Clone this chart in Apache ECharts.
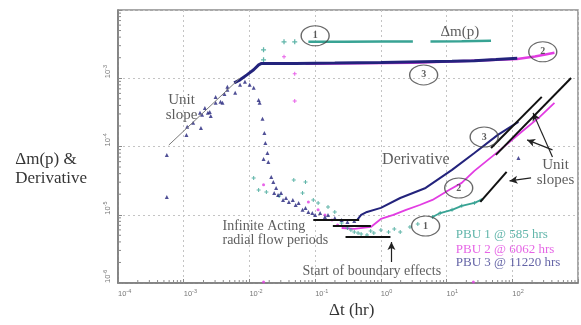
<!DOCTYPE html>
<html>
<head>
<meta charset="utf-8">
<script src="https://cdn.jsdelivr.net/npm/echarts@6/dist/echarts.min.js"></script>
<style>
  html, body { margin: 0; padding: 0; background: #fff; }
  #chart { width: 581px; height: 325px; }
</style>
</head>
<body>
<div id="chart"></div>
<script>
// Log-log diagnostic plot of three pressure build-ups: Δm(p) and its derivative vs Δt (hr)

// ---- PBU 1 @ 585 hrs ----
const pbu1DeltaEarly = [[1.64e-2, 2.61e-3], [1.64e-2, 1.86e-3], [3.36e-2, 3.42e-3], [4.89e-2, 3.42e-3]];
const pbu1DeltaA = [[7.89e-2, 3.44e-3], [0.28, 3.44e-3], [1.10, 3.45e-3], [3.07, 3.45e-3]];
const pbu1DeltaB = [[5.69, 3.45e-3], [17.0, 3.48e-3], [47.5, 3.53e-3]];
const pbu1Deriv = [
  [1.16e-2, 3.46e-5], [1.38e-2, 2.31e-5], [1.81e-2, 2.16e-5], [2.83e-2, 1.89e-5], [4.73e-2, 3.24e-5],
  [7.13e-2, 3.03e-5], [6.43e-2, 2.09e-5], [9.37e-2, 1.65e-5], [0.111, 1.49e-5], [0.157, 1.30e-5],
  [0.199, 1.10e-5], [0.253, 7.58e-6], [0.310, 6.40e-6], [0.394, 5.59e-6], [0.501, 5.23e-6],
  [0.615, 5.06e-6], [0.781, 5.41e-6], [1.00, 5.98e-6], [1.31, 5.59e-6], [1.97, 5.59e-6],
  [2.77, 6.62e-6], [3.65, 7.33e-6], [0.35, 6.0e-6], [0.45, 5.4e-6], [0.70, 5.8e-6], [1.6, 6.2e-6]
];
const pbu1DerivLate = [[6.10, 9.28e-6], [8.00, 1.06e-5], [12.1, 1.18e-5], [17.0, 1.35e-5], [26.5, 1.49e-5], [33.7, 1.65e-5]];

// ---- PBU 2 @ 6062 hrs ----
const pbu2DeltaEarly = [[3.36e-2, 2.06e-3], [4.89e-2, 1.16e-3], [4.89e-2, 4.66e-4]];
const pbu2Delta = [[7.13e-2, 1.63e-3], [3.07, 1.68e-3], [23.9, 1.80e-3], [119, 1.92e-3], [221, 2.09e-3], [438, 2.36e-3]];
const pbu2DerivEarly = [
  [1.64e-2, 2.74e-5], [7.89e-2, 1.54e-5], [0.111, 1.18e-5], [0.141, 9.93e-6], [0.180, 8.39e-6],
  [0.220, 7.08e-6], [1.64e-2, 1.03e-6], [25.6, 1.03e-6]
];
const pbu2Deriv = [
  [0.253, 6.40e-6], [0.394, 6.19e-6], [0.705, 6.62e-6], [1.00, 8.68e-6], [1.55, 9.93e-6],
  [2.42, 1.18e-5], [3.90, 1.39e-5], [6.10, 1.65e-5], [10.9, 2.31e-5], [17.0, 2.93e-5],
  [26.5, 4.39e-5], [60.3, 8.33e-5], [132, 1.58e-4], [262, 2.72e-4], [438, 4.36e-4]
];

// ---- PBU 3 @ 11220 hrs ----
const pbu3DeltaEarly = [
  [5.53e-4, 7.53e-5], [5.53e-4, 1.82e-5], [1.13e-3, 1.94e-4], [1.77e-3, 3.11e-4], [1.90e-3, 2.91e-4],
  [2.33e-3, 3.11e-4], [2.49e-3, 3.21e-4], [3.06e-3, 4.36e-4], [3.06e-3, 5.33e-4], [3.89e-3, 4.36e-4],
  [4.62e-3, 7.48e-4]
];
const pbu3Delta = [
  [5.86e-3, 8.57e-4], [7.20e-3, 9.48e-4], [9.15e-3, 1.12e-3], [1.16e-2, 1.33e-3], [1.38e-2, 1.57e-3],
  [1.53e-2, 1.65e-3], [5.06e-2, 1.65e-3], [0.199, 1.67e-3], [1.00, 1.70e-3], [4.32, 1.74e-3],
  [12.1, 1.77e-3], [26.5, 1.80e-3], [56.3, 1.88e-3], [119, 1.97e-3]
];
const pbu3DerivEarly = [
  [1.10e-3, 1.48e-4], [1.39e-3, 2.22e-4], [1.83e-3, 1.87e-4], [2.10e-3, 3.68e-4], [2.58e-3, 2.81e-4],
  [3.63e-3, 4.51e-4], [4.17e-3, 5.90e-4], [4.62e-3, 6.76e-4], [6.07e-3, 6.11e-4], [7.20e-3, 8.00e-4],
  [8.55e-3, 8.85e-4], [1.01e-2, 8.00e-4], [1.16e-2, 7.23e-4], [1.38e-2, 4.82e-4], [1.43e-2, 4.36e-4],
  [1.58e-2, 2.54e-4], [1.69e-2, 1.58e-4], [1.75e-2, 1.13e-4], [1.88e-2, 8.05e-5], [1.64e-2, 6.58e-5],
  [1.94e-2, 5.95e-5], [2.15e-2, 3.58e-5], [2.31e-2, 3.03e-5], [2.38e-2, 2.09e-5], [2.55e-2, 2.47e-5],
  [2.73e-2, 1.95e-5], [3.03e-2, 2.09e-5], [3.25e-2, 1.65e-5], [3.60e-2, 1.76e-5], [3.98e-2, 1.54e-5],
  [4.57e-2, 1.65e-5], [5.06e-2, 1.39e-5], [5.61e-2, 1.49e-5], [6.43e-2, 1.18e-5], [7.13e-2, 1.26e-5],
  [7.89e-2, 1.10e-5], [9.06e-2, 1.06e-5], [0.100, 9.93e-6], [0.119, 1.06e-5], [0.141, 9.28e-6],
  [0.157, 9.93e-6], [0.199, 8.98e-6], [0.253, 8.39e-6], [0.310, 7.84e-6], [0.394, 8.11e-6],
  [124, 6.81e-5]
];
const pbu3Deriv = [
  [0.437, 8.39e-6], [0.501, 9.93e-6], [0.615, 1.10e-5], [1.00, 1.26e-5], [1.97, 1.76e-5],
  [4.80, 2.47e-5], [12.1, 4.54e-5], [26.5, 8.05e-5], [60.3, 1.48e-4], [124, 2.30e-4]
];

// ---- interpretation lines (Δt, value) ----
const unitSlopeEarly = [[5.93e-4, 1.05e-4], [7.20e-3, 1.01e-3]];
const unitSlopeLate = [
  [[47.5, 9.53e-5], [281, 5.33e-4]],
  [[56.3, 7.53e-5], [785, 1.01e-3]],
  [[32.6, 1.54e-5], [82.0, 4.24e-5]]
];
const iarfLines = [
  [[9.37e-2, 8.39e-6], [0.468, 8.39e-6]],
  [[0.186, 6.85e-6], [0.705, 6.85e-6]],
  [[0.290, 4.72e-6], [1.40, 4.72e-6]]
];
const arrows = [
  [[409, 7.04e-5], [207, 3.11e-4]],
  [[409, 8.91e-5], [168, 1.25e-4]],
  [[193, 3.46e-5], [90.8, 3.13e-5]],
  [[1.45, 2.03e-6], [1.45, 3.99e-6]]
];
const circleTags = [
  [0.100, 4.19e-3, '1'], [291, 2.44e-3, '2'], [4.48, 1.12e-3, '3'],
  [37.3, 1.38e-4, '3'], [15.3, 2.47e-5, '2'], [4.80, 6.85e-6, '1']
];

const NAVY = '#23237c', MAGENTA = '#e23ce2', TEAL = '#38a394', INK = '#353535';
const SERIF = '"Liberation Serif","DejaVu Serif",serif';

// annotation texts: [Δt, value, text, size, align, color]
const notes = [
  [9.25e-4, 4.82e-4, 'Unit', 15, 'center', INK],
  [9.25e-4, 2.91e-4, 'slope', 15, 'center', INK],
  [15.9, 4.79e-3, 'Δm(p)', 15, 'center', INK],
  [3.41, 6.37e-5, 'Derivative', 16, 'center', INK],
  [454, 5.38e-5, 'Unit', 15, 'center', INK],
  [454, 3.24e-5, 'slopes', 15, 'center', INK],
  [3.89e-3, 6.85e-6, 'Infinite Acting', 14, 'left', INK],
  [3.89e-3, 4.27e-6, 'radial flow periods', 14, 'left', INK],
  [0.729, 1.50e-6, 'Start of boundary effects', 14, 'center', INK],
  [13.8, 5.06e-6, 'PBU 1 @ 585 hrs', 13, 'left', '#3aa395'],
  [13.8, 3.05e-6, 'PBU 2 @ 6062 hrs', 13, 'left', '#e03ee0'],
  [13.8, 1.96e-6, 'PBU 3 @ 11220 hrs', 13, 'left', '#3b3b8f']
];

// minor tick positions inside each decade
const minorX = [];
for (let e = -4; e < 3; e++) for (let k = 2; k < 10; k++) minorX.push(k * Math.pow(10, e));
const minorY = [];
for (let e = -6; e < -2; e++) for (let k = 2; k < 10; k++) minorY.push(k * Math.pow(10, e));

const PLUS = 'path://M-1,-4H1V-1H4V1H1V4H-1V1H-4V-1H-1Z';
const ELLIPSE = 'path://M0,10A10,10,0,1,1,20,10A10,10,0,1,1,0,10Z';

// decade labels; the top decade of each axis carries no label
const expLabel = max => v => (v >= max * 0.999 ? '' : '{b|10}{s|' + Math.round(Math.log10(v)) + '}');
const tickRich = {
  b: { fontSize: 7.5, color: '#777', fontFamily: 'Arial, sans-serif' },
  s: { fontSize: 5.5, color: '#777', fontFamily: 'Arial, sans-serif', padding: [0, 0, 5, 0] }
};

function lineSeries(data, color, width, z) {
  return { type: 'line', data, symbol: 'none', lineStyle: { color, width }, z: z || 3, silent: true, clip: false };
}
function dotSeries(data, color, symbol, size, z) {
  return { type: 'scatter', data, symbol, symbolSize: size, itemStyle: { color }, z: z || 3, silent: true };
}

const series = [
  // minor ticks along the axes
  {
    type: 'custom', silent: true, clip: false, z: 1,
    data: minorX.map(v => [v, 1e-6]),
    renderItem: (p, api) => {
      const c = api.coord([api.value(0), api.value(1)]);
      return { type: 'line', shape: { x1: c[0], y1: c[1], x2: c[0], y2: c[1] - 3 }, style: { stroke: '#8a8a8a', lineWidth: 1 } };
    }
  },
  {
    type: 'custom', silent: true, clip: false, z: 1,
    data: minorY.map(v => [1e-4, v]),
    renderItem: (p, api) => {
      const c = api.coord([api.value(0), api.value(1)]);
      return { type: 'line', shape: { x1: c[0], y1: c[1], x2: c[0] + 3, y2: c[1] }, style: { stroke: '#8a8a8a', lineWidth: 1 } };
    }
  },
  // PBU 1
  dotSeries(pbu1DeltaEarly, TEAL, PLUS, 5),
  lineSeries(pbu1DeltaA, TEAL, 2.5),
  lineSeries(pbu1DeltaB, TEAL, 2.5),
  dotSeries(pbu1Deriv, TEAL, PLUS, 4),
  lineSeries(pbu1DerivLate, TEAL, 1.8),
  dotSeries(pbu1DerivLate, TEAL, PLUS, 4),
  // PBU 2
  dotSeries(pbu2DeltaEarly, MAGENTA, PLUS, 4),
  lineSeries(pbu2Delta, MAGENTA, 2.5, 3),
  dotSeries(pbu2DerivEarly, MAGENTA, 'circle', 3),
  lineSeries(pbu2Deriv, MAGENTA, 1.8),
  // PBU 3
  dotSeries(pbu3DeltaEarly, NAVY, 'triangle', 4, 4),
  lineSeries(pbu3Delta, NAVY, 3, 5),
  dotSeries(pbu3DerivEarly, NAVY, 'triangle', 4, 4),
  lineSeries(pbu3Deriv, NAVY, 2, 4),
  // interpretation lines
  lineSeries(unitSlopeEarly, '#7a7a7a', 1, 6),
  ...unitSlopeLate.map(seg => lineSeries(seg, '#111', 2, 6)),
  ...iarfLines.map(seg => lineSeries(seg, '#111', 2, 6)),
  {
    type: 'line', data: [], z: 6, silent: true,
    markLine: {
      silent: true, animation: false,
      symbol: ['none', 'arrow'], symbolSize: [6, 8],
      label: { show: false },
      lineStyle: { color: '#222', width: 1.2, type: 'solid' },
      data: arrows.map(([a, b]) => [{ coord: a }, { coord: b }])
    }
  },
  // circled PBU numbers
  {
    type: 'scatter', z: 7, silent: true, clip: false,
    symbol: ELLIPSE, symbolSize: [28, 20],
    itemStyle: { color: 'rgba(255,255,255,0)', borderColor: '#444', borderWidth: 1.2 },
    label: {
      show: true, position: 'inside', formatter: p => p.value[2],
      fontFamily: SERIF, fontSize: 10, fontWeight: 'bold', color: '#333'
    },
    data: circleTags
  },
  // annotation texts
  {
    type: 'scatter', z: 8, silent: true, clip: false, symbolSize: 0,
    data: notes.map(n => ({
      value: [n[0], n[1]],
      label: {
        show: true, position: [0, 0], formatter: n[2], align: n[4], verticalAlign: 'middle',
        fontFamily: SERIF, fontSize: n[3], color: n[5]
      }
    }))
  }
];

const chart = echarts.init(document.getElementById('chart'), null, { renderer: 'canvas' });
chart.setOption({
  animation: false,
  backgroundColor: '#fff',
  grid: { left: 118, top: 10, width: 471, height: 273, show: true, borderColor: '#8c8c8c', borderWidth: 1.5 },
  xAxis: {
    type: 'log', logBase: 10, min: 1e-4, max: 1e3,
    axisLine: { lineStyle: { color: '#7a7a7a', width: 1.5 } },
    axisTick: { inside: true, length: 4, lineStyle: { color: '#8a8a8a' } },
    splitLine: { show: true, lineStyle: { color: '#c4c4c4', type: [2, 3], width: 1 } },
    axisLabel: { formatter: expLabel(1e3), rich: tickRich, margin: 5, align: 'left' }
  },
  yAxis: {
    type: 'log', logBase: 10, min: 1e-6, max: 1e-2,
    axisLine: { lineStyle: { color: '#7a7a7a', width: 1.5 } },
    axisTick: { inside: true, length: 4, lineStyle: { color: '#8a8a8a' } },
    splitLine: { show: true, lineStyle: { color: '#c4c4c4', type: [2, 3], width: 1 } },
    axisLabel: {
      formatter: expLabel(1e-2), rich: tickRich, rotate: 90, margin: 10,
      align: 'left', verticalAlign: 'middle'
    }
  },
  graphic: [
    {
      type: 'text', right: 581 - 87, top: 150,
      style: { text: 'Δm(p) &\nDerivative', align: 'right', font: '17px ' + SERIF, fill: INK, lineHeight: 19 }
    },
    {
      type: 'text', left: 329, top: 302,
      style: { text: 'Δt (hr)', font: '17px ' + SERIF, fill: INK }
    }
  ],
  series
});
</script>
</body>
</html>
